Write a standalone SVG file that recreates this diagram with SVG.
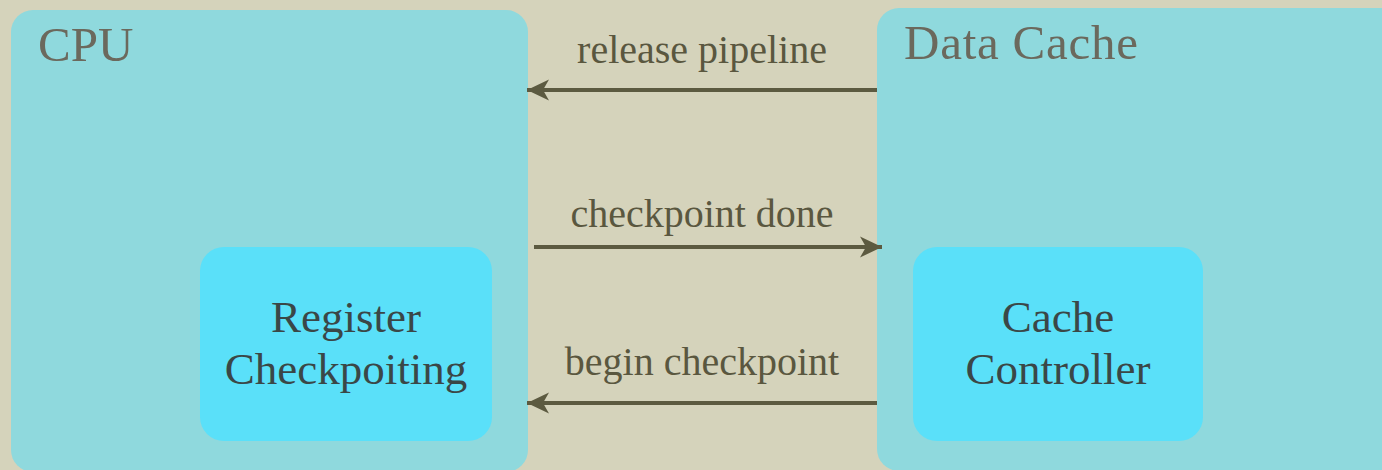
<svg xmlns="http://www.w3.org/2000/svg" width="1382" height="470" viewBox="0 0 1382 470">
<style>
.bg{fill:#d5d3bb}
.outer{fill:#8fd9dd}
.inner{fill:#5ae0f9}
.title{font-family:"Liberation Serif",serif;font-size:49px;fill:#6b695d}
.lbl{font-family:"Liberation Serif",serif;font-size:40px;fill:#5a573f;text-anchor:middle}
.nodetext{font-family:"Liberation Serif",serif;font-size:45px;fill:#3a4747;text-anchor:middle}
.conn{stroke:#5c5a40;stroke-width:4;fill:none}
</style>
<defs>
<pattern id="tex" width="7" height="40" patternUnits="userSpaceOnUse">
<rect width="7" height="40" fill="#d5d3bb"/>
<rect x="2" width="1.5" height="40" fill="#e0dec8" opacity="0.6"/>
<rect x="5" y="6" width="1" height="30" fill="#c8c6ac" opacity="0.5"/>
</pattern>
<marker id="arr" viewBox="0 -11 24 22" refX="22" refY="0" markerWidth="24" markerHeight="22" markerUnits="userSpaceOnUse" orient="auto">
<path d="M22,0 L0,-10.5 L6,0 L0,10.5 Z" fill="#5c5a40"/>
</marker>
</defs>
<rect class="bg" width="1382" height="470" fill="url(#tex)"/>
<g id="cpu">
<rect class="outer" x="11" y="10" width="517" height="462" rx="22"/>
<text class="title" x="38" y="61">CPU</text>
</g>
<g id="data-cache">
<rect class="outer" x="877" y="8" width="530" height="463" rx="22"/>
<text class="title" x="904" y="59" textLength="234">Data Cache</text>
</g>
<g id="register-checkpointing">
<rect class="inner" x="200" y="247" width="292" height="194" rx="24"/>
<text class="nodetext" x="346" y="332">Register</text>
<text class="nodetext" x="346" y="384">Checkpoiting</text>
</g>
<g id="cache-controller">
<rect class="inner" x="913" y="247" width="290" height="194" rx="24"/>
<text class="nodetext" x="1058" y="332">Cache</text>
<text class="nodetext" x="1058" y="384">Controller</text>
</g>
<g id="connectors">
<line class="conn" x1="877" y1="90" x2="527" y2="90" marker-end="url(#arr)"/>
<text class="lbl" x="702" y="63">release pipeline</text>
<line class="conn" x1="534" y1="247" x2="882" y2="247" marker-end="url(#arr)"/>
<text class="lbl" x="702" y="227">checkpoint done</text>
<line class="conn" x1="877" y1="403" x2="527" y2="403" marker-end="url(#arr)"/>
<text class="lbl" x="702" y="375">begin checkpoint</text>
</g>
</svg>
